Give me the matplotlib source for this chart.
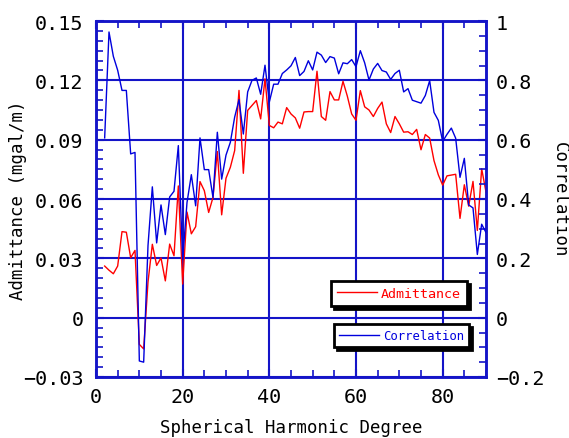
import numpy as np
import matplotlib
matplotlib.use('Agg')
from matplotlib import pyplot as plt
from matplotlib.ticker import MultipleLocator, FuncFormatter
from matplotlib.lines import Line2D

# degree 2..90
degree = list(range(2, 91))

admittance = [0.0261, 0.0240, 0.0222, 0.0261, 0.0435, 0.0432, 0.0303, 0.0340, -0.0135, -0.0158,
              0.0180, 0.0371, 0.0264, 0.0302, 0.0186, 0.0372, 0.0313, 0.0666, 0.0170, 0.0534,
              0.0424, 0.0460, 0.0688, 0.0642, 0.0532, 0.0608, 0.0840, 0.0520, 0.0705, 0.0760,
              0.0845, 0.1149, 0.0730, 0.1048, 0.1073, 0.1098, 0.1005, 0.1208, 0.0972, 0.0960,
              0.0989, 0.0980, 0.1062, 0.1030, 0.1010, 0.0958, 0.1040, 0.1042, 0.1042, 0.1246,
              0.1017, 0.0998, 0.1143, 0.1101, 0.1101, 0.1195, 0.1120, 0.1030, 0.0998, 0.1148,
              0.1066, 0.1050, 0.1017, 0.1058, 0.1090, 0.0980, 0.0936, 0.1017, 0.0980, 0.0938,
              0.0940, 0.0926, 0.0952, 0.0849, 0.0926, 0.0908, 0.0794, 0.0722, 0.0670, 0.0717,
              0.0721, 0.0725, 0.0502, 0.0672, 0.0564, 0.0689, 0.0441, 0.0753, 0.0635]

correlation = [0.606, 0.963, 0.881, 0.834, 0.766, 0.766, 0.552, 0.557, -0.146, -0.150,
               0.243, 0.441, 0.252, 0.380, 0.280, 0.407, 0.426, 0.580, 0.197, 0.388,
               0.482, 0.377, 0.606, 0.499, 0.499, 0.405, 0.625, 0.467, 0.548, 0.591,
               0.676, 0.735, 0.619, 0.761, 0.800, 0.808, 0.753, 0.851, 0.727, 0.787,
               0.787, 0.823, 0.835, 0.849, 0.877, 0.816, 0.830, 0.866, 0.835, 0.895,
               0.885, 0.860, 0.880, 0.875, 0.822, 0.859, 0.856, 0.870, 0.846, 0.900,
               0.859, 0.801, 0.838, 0.857, 0.833, 0.828, 0.803, 0.823, 0.834, 0.761,
               0.772, 0.733, 0.728, 0.723, 0.749, 0.799, 0.692, 0.665, 0.594, 0.618,
               0.639, 0.605, 0.473, 0.537, 0.380, 0.370, 0.213, 0.315, 0.287]

blue = '#0000dd'
grid_blue = '#1414c8'
red = '#ff0000'
font = 'DejaVu Sans Mono'

fig = plt.figure(figsize=(5.69, 4.39), dpi=100)
ax = fig.add_axes([96/569, 1-378/439, 390/569, 356/439])
ax2 = ax.twinx()

ax.plot(degree, admittance, color=red, lw=1.0, zorder=3)
ax2.plot(degree, correlation, color=blue, lw=1.0, zorder=3)

ax.set_xlim(0, 90)
ax.set_ylim(-0.03, 0.15)
ax2.set_ylim(-0.2, 1.0)

ax.xaxis.set_major_locator(MultipleLocator(20))
ax.xaxis.set_minor_locator(MultipleLocator(5))
ax.yaxis.set_major_locator(MultipleLocator(0.03))
ax.yaxis.set_minor_locator(MultipleLocator(0.005))
ax2.yaxis.set_major_locator(MultipleLocator(0.2))
ax2.yaxis.set_minor_locator(MultipleLocator(0.05))

ax.yaxis.set_major_formatter(FuncFormatter(lambda v, p: '0' if abs(v) < 1e-9 else f'{v:.2f}'.replace('-', '\u2212')))
ax2.yaxis.set_major_formatter(FuncFormatter(lambda v, p: '0' if abs(v) < 1e-9 else f'{v:g}'.replace('-', '\u2212')))

ax.grid(True, which='major', color=grid_blue, lw=1.5)
for a in (ax, ax2):
    for s in a.spines.values():
        s.set_color(grid_blue)
        s.set_linewidth(1.8)

ax.tick_params(axis='x', which='both', direction='in', top=True, bottom=True, color=grid_blue)
ax.tick_params(axis='x', which='major', pad=7)
ax.tick_params(axis='y', which='both', direction='in', left=True, right=False, color=grid_blue)
ax.tick_params(axis='y', which='major', pad=9)
ax.tick_params(which='major', length=6, width=1.5, labelsize=14.5)
ax.tick_params(which='minor', length=5, width=1.2)
ax2.tick_params(axis='y', which='both', direction='in', color=grid_blue)
ax2.tick_params(which='major', length=6, width=1.5, labelsize=14.5, pad=7)
ax2.tick_params(which='minor', length=5, width=1.2)

for lab in ax.get_xticklabels() + ax.get_yticklabels() + ax2.get_yticklabels():
    lab.set_family(font)

ax.set_xlabel('Spherical Harmonic Degree', family=font, fontsize=12.5, labelpad=9)
ax.set_ylabel('Admittance (mgal/m)', family=font, fontsize=12.5, labelpad=-3)
ax2.set_ylabel('Correlation', family=font, fontsize=12.5, rotation=270, labelpad=18)

shadow = {'ox': 2.5, 'oy': -2.5, 'color': 'black', 'alpha': 1}
leg1 = ax2.legend(handles=[Line2D([], [], color=red, lw=1)], labels=['Admittance'],
                  loc='upper left', bbox_to_anchor=(331/569, 1-282/439), bbox_transform=fig.transFigure,
                  fancybox=False, shadow=shadow, edgecolor='black', framealpha=1,
                  prop={'family': font, 'size': 9.6}, labelcolor=red,
                  handlelength=3.0, handletextpad=0.3, borderpad=0.45, borderaxespad=0)
leg1.get_frame().set_linewidth(2)
ax2.add_artist(leg1)
leg2 = ax2.legend(handles=[Line2D([], [], color=blue, lw=1)], labels=['Correlation'],
                  loc='upper left', bbox_to_anchor=(334/569, 1-325/439), bbox_transform=fig.transFigure,
                  fancybox=False, shadow=shadow, edgecolor='black', framealpha=1,
                  prop={'family': font, 'size': 8.8}, labelcolor=blue,
                  handlelength=3.3, handletextpad=0.3, borderpad=0.4, borderaxespad=0)
leg2.get_frame().set_linewidth(2)

fig.savefig('out.png', dpi=100)
